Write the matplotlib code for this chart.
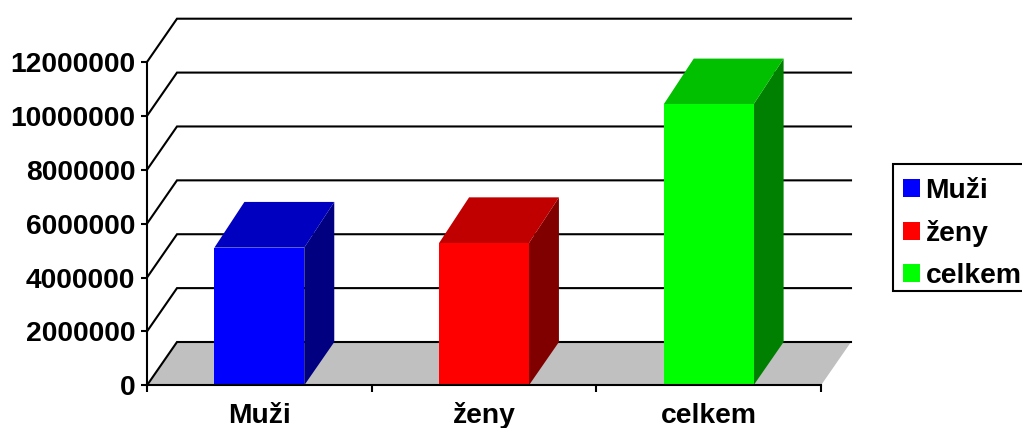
import matplotlib
matplotlib.use('Agg')
import matplotlib.pyplot as plt
from matplotlib.patches import Patch, Polygon, Rectangle

plt.rcParams['font.family'] = ['Liberation Sans', 'DejaVu Sans']
plt.rcParams['font.weight'] = 'bold'

categories = ['Muži', 'ženy', 'celkem']
values = [5110000, 5280000, 10430000]
yticks = [0, 2000000, 4000000, 6000000, 8000000, 10000000, 12000000]

front_colors = ['#0000ff', '#ff0000', '#00ff00']
top_colors = ['#0000c0', '#c00000', '#00c000']
side_colors = ['#000080', '#800000', '#008000']

W, H = 1022, 428
FS = 20.3
LW = 1.5

fig = plt.figure(figsize=(W / 100, H / 100), dpi=100)
ax = fig.add_axes([147 / W, (H - 385.3) / H, 674 / W, 323.3 / H])
ax.set_xlim(0, 3)
ax.set_ylim(0, 12000000)
ax.patch.set_visible(False)

# oblique depth of the fake 3d, in data units
dx = 30 / 674 * 3
dy = 43.3 / 323.3 * 12000000
dy_top = 45.7 / 323.3 * 12000000
bar_w = 0.40

# floor
floor = Polygon([(0, 0), (dx, dy), (3 + dx, dy), (3, 0)], closed=True, fc='#c0c0c0', ec='none', clip_on=False, zorder=1)
ax.add_patch(floor)

# gridlines go up the side wall and along the back wall
for v in yticks:
    ax.plot([0, dx, 3 + dx], [v, v + dy, v + dy], color='black', lw=LW, clip_on=False, zorder=2,
            solid_joinstyle='miter')

for i, v in enumerate(values):
    x0 = i + 0.5 - bar_w / 2
    x1 = i + 0.5 + bar_w / 2
    ax.add_patch(Polygon([(x1, 0), (x1 + dx, dy), (x1 + dx, v + dy_top), (x1, v)], closed=True,
                         fc=side_colors[i], ec='none', clip_on=False, zorder=3))
    ax.add_patch(Polygon([(x0, v), (x0 + dx, v + dy_top), (x1 + dx, v + dy_top), (x1, v)], closed=True,
                         fc=top_colors[i], ec='none', clip_on=False, zorder=3))
    ax.bar(i + 0.5, v, width=bar_w, color=front_colors[i], zorder=4)

for s in ['top', 'right']:
    ax.spines[s].set_visible(False)
for s in ['left', 'bottom']:
    ax.spines[s].set_linewidth(LW)
    ax.spines[s].set_zorder(5)

ax.set_yticks(yticks)
ax.set_yticklabels([str(v) for v in yticks], fontsize=FS, fontweight='bold')
ax.set_xticks([0, 1, 2, 3])
ax.set_xticklabels([])
ax.set_xticks([0.5, 1.5, 2.5], minor=True)
ax.set_xticklabels(categories, minor=True, fontsize=FS, fontweight='bold', va='baseline')
ax.tick_params(axis='y', length=4.5, width=LW, pad=4)
ax.tick_params(axis='x', which='major', length=5, width=LW)
ax.tick_params(axis='x', which='minor', length=0, pad=27)

# legend box runs off the right edge of the picture, so the frame is separate
fig.add_artist(Rectangle((893 / W, (H - 291) / H), 140 / W, 127.3 / H, transform=fig.transFigure,
                         fc='white', ec='black', lw=LW, zorder=6))
handles = [Patch(fc=c, ec='none', label=n) for c, n in zip(front_colors, categories)]
leg = fig.legend(handles=handles, loc='upper left', bbox_to_anchor=(903 / W, (H - 178) / H),
                 bbox_transform=fig.transFigure, borderaxespad=0, borderpad=0, fontsize=FS, frameon=False,
                 handlelength=0.6, handleheight=0.6, handletextpad=0.2, labelspacing=0.56)
leg.set_zorder(7)

fig.savefig('out.png', dpi=100, facecolor='white')
